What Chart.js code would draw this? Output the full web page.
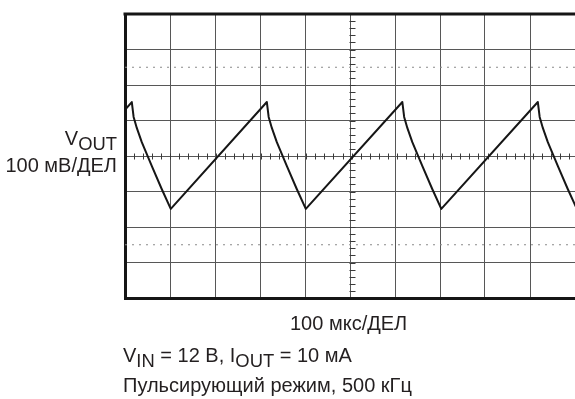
<!DOCTYPE html>
<html>
<head>
<meta charset="utf-8">
<script src="https://cdn.jsdelivr.net/npm/chart.js@4/dist/chart.umd.min.js"></script>
<style>
  html, body { margin: 0; padding: 0; background: #fff; overflow: hidden; }
  #wrap { position: relative; width: 575px; height: 399px; }
  #scope { position: absolute; left: 0; top: 0; }
  .lbl {
    position: absolute; white-space: nowrap;
    font-family: "Liberation Sans", Arial, sans-serif;
    font-size: 20px; line-height: 20px; color: #231f20;
  }
  .lbl sub { font-size: 0.92em; vertical-align: -5px; line-height: 0; }
  .right { text-align: right; }
</style>
</head>
<body>
<div id="wrap">
  <canvas id="scope" width="575" height="399"></canvas>
  <div class="lbl right" style="right:458px; top:128px;">V<sub>OUT</sub></div>
  <div class="lbl right" style="right:458px; top:155px;">100 мВ/ДЕЛ</div>
  <div class="lbl" style="left:290px; top:313px;">100 мкс/ДЕЛ</div>
  <div class="lbl" style="left:123px; top:345px;">V<sub>IN</sub> = 12 В, I<sub>OUT</sub> = 10 мА</div>
  <div class="lbl" style="left:123px; top:375px;">Пульсирующий режим, 500 кГц</div>
</div>
<script>
// scope trace: time in µs (100 µs/div), Vout ripple in mV (100 mV/div)
const timeUs = [0, 15, 19, 26, 37, 59, 81, 101,
                313, 317, 324, 335, 357, 379, 399,
                612, 616, 623, 634, 656, 678, 698,
                911, 915, 922, 933, 955, 977, 997];
const voutMv = [130, 152, 110, 79, 39, -28, -93, -149,
                152, 110, 79, 39, -28, -93, -149,
                152, 110, 79, 39, -28, -93, -149,
                152, 110, 79, 39, -28, -93, -149];

// dotted graticule markers (mV)
const markerLevelsMv = [250, -250];

// screen: 10 horizontal divisions (the right edge is cut off), 8 vertical
const xMinUs = 0, xMaxUs = 993, xDivUs = 100;
const yMinMv = -400, yMaxMv = 400, yDivMv = 100;

const trace = timeUs.map((t, i) => ({ x: t, y: voutMv[i] }));

// small ticks along the centre cross (5 per division) and the top edge of the frame
const graticule = {
    id: 'graticule',
    beforeDatasetsDraw(chart) {
        const { ctx, chartArea } = chart;
        const x = chart.scales.x, y = chart.scales.y;
        const cx = Math.round(x.getPixelForValue(500)) + 0.5;
        const cy = Math.round(y.getPixelForValue(0)) + 0.5;
        ctx.save();
        ctx.strokeStyle = '#3a3a3a';
        ctx.lineWidth = 1;
        ctx.beginPath();
        for (let t = xDivUs / 5; t < 1000; t += xDivUs / 5) {
            const px = Math.round(x.getPixelForValue(t)) + 0.5;
            ctx.moveTo(px, cy - 3); ctx.lineTo(px, cy + 3);
        }
        for (let v = yMinMv + yDivMv / 5; v < yMaxMv; v += yDivMv / 5) {
            const py = Math.round(y.getPixelForValue(v)) + 0.5;
            ctx.moveTo(cx - 3, py); ctx.lineTo(cx + 3, py);
        }
        ctx.stroke();
        ctx.strokeStyle = '#161616';
        ctx.lineWidth = 3;
        ctx.beginPath();
        ctx.moveTo(chartArea.left - 1.5, chartArea.top);
        ctx.lineTo(chartArea.right, chartArea.top);
        ctx.stroke();
        ctx.restore();
    }
};

const frame = { display: true, color: '#161616', width: 3 };

new Chart(document.getElementById('scope'), {
    type: 'line',
    data: {
        datasets: [
            {
                label: 'VOUT',
                data: trace,
                borderColor: '#161616',
                borderWidth: 2,
                borderJoinStyle: 'round',
                pointRadius: 0,
                tension: 0,
                fill: false
            },
            ...markerLevelsMv.map(v => ({
                label: 'marker ' + v,
                data: [{ x: 0, y: v }, { x: 1000, y: v }],
                borderColor: '#8a8a8a',
                borderWidth: 1,
                borderDash: [2, 5],
                pointRadius: 0,
                fill: false
            }))
        ]
    },
    options: {
        responsive: false,
        animation: false,
        events: [],
        layout: { padding: { left: 125, top: 14, right: 0, bottom: 101 } },
        plugins: { legend: { display: false }, tooltip: { enabled: false } },
        scales: {
            x: {
                type: 'linear', min: xMinUs, max: xMaxUs,
                ticks: { display: false, stepSize: xDivUs },
                grid: { color: '#575757', lineWidth: 1, drawTicks: false },
                border: frame
            },
            y: {
                type: 'linear', min: yMinMv, max: yMaxMv,
                ticks: { display: false, stepSize: yDivMv },
                grid: { color: '#575757', lineWidth: 1, drawTicks: false },
                border: frame
            }
        }
    },
    plugins: [graticule]
});
</script>
</body>
</html>
